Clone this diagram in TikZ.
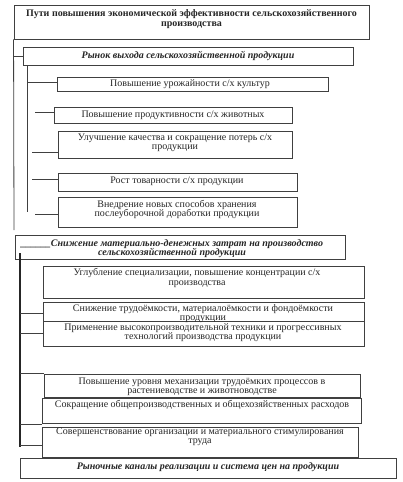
\documentclass[tikz,border=0pt]{standalone}
\usepackage{fontspec}
\setmainfont{Liberation Serif}
\tikzset{
  box/.style={draw=black!75, line width=0.9pt, inner sep=0pt, fill=white},
  txt/.style={inner sep=0pt, align=center, font=\fontsize{10}{10}\selectfont, text=black!85},
  btxt/.style={txt, font=\fontsize{10}{10}\selectfont\bfseries},
  itxt/.style={txt, font=\fontsize{10}{10}\selectfont\bfseries\itshape},
  conn/.style={draw=black!75, line width=0.8pt},
  spine/.style={draw=black!85, line width=1.4pt}
}
\newcommand\bx[5]{\node[box, minimum width={(#4-#2)*1pt}, minimum height={(#5-#3)*1pt}] (#1) at ({(#2+#4)/2},{(#3+#5)/2}) {};}
\begin{document}
\begin{tikzpicture}[x=1pt,y=-1pt]
\useasboundingbox[fill=white] (0,0) rectangle (402,482);
% boxes
\bx{T}{14}{5}{369}{39}
\bx{B2}{23}{47}{353}{65}
\bx{B3}{57}{77}{328}{91}
\bx{B4}{54}{107}{292}{123}
\bx{B5}{58}{131}{292}{158}
\bx{B6}{58}{173}{297}{191}
\bx{B7}{58}{197}{297}{227}
\bx{B8}{15}{235}{345}{259}
\bx{B9}{43}{266}{364}{298}
\bx{B10}{43}{302}{364}{321}
\bx{B11}{43}{321}{364}{346}
\bx{B12}{44}{374}{360}{397}
\bx{B13}{42}{398}{361}{423}
\bx{B14}{42}{427}{358}{457}
\bx{B15}{20}{458}{396}{478}
% texts
\node[btxt] (Tt) at (191.5,19) {Пути повышения экономической эффективности сельскохозяйственного\\производства};
\node[itxt] (B2t) at (188,56) {Рынок выхода сельскохозяйственной продукции};
\node[txt] (B3t) at (190,84) {Повышение урожайности с/х культур};
\node[txt] (B4t) at (173,115) {Повышение продуктивности с/х животных};
\node[txt] (B5t) at (175,142.5) {Улучшение качества и сокращение потерь с/х\\[-1pt]продукции};
\node[txt] (B6t) at (177,181.5) {Рост товарности с/х продукции};
\node[txt] (B7t) at (177,209) {Внедрение новых способов хранения\\[-1pt]послеуборочной доработки продукции};
\node[itxt] (B8t) at (172,248.5) {\_\_\_\_\_\_Снижение материально-денежных затрат на производство\\[-1pt]сельскохозяйственной продукции};
\node[txt] (B9t) at (197,278) {Углубление специализации, повышение концентрации с/х\\производства};
\node[txt] (B10t) at (203,313.5) {Снижение трудоёмкости, материалоёмкости и фондоёмкости\\[-1pt]продукции};
\node[txt] (B11t) at (203,333) {Применение высокопроизводительной техники и прогрессивных\\[-1pt]технологий производства продукции};
\node[txt] (B12t) at (202,386.5) {Повышение уровня механизации трудоёмких процессов в\\[-1pt]растениеводстве и животноводстве};
\node[txt] (B13t) at (202,405) {Сокращение общепроизводственных и общехозяйственных расходов};
\node[txt] (B14t) at (200,437) {Совершенствование организации и материального стимулирования\\[-1pt]труда};
\node[itxt] (B15t) at (208,467) {Рыночные каналы реализации и система цен на продукции};
% outer spine
\coordinate (o1) at (14,230);
\draw[conn] (T.south west) -- (o1);
\draw[conn] (B2.west -| o1) -- (B2.west);
% inner spine
\coordinate (i1) at (27,212);
\draw[conn] (i1 |- B2.south) -- (i1);
\coordinate (c3) at (27,82);
\draw[conn] (c3) -- (c3 -| B3.west);
\coordinate (c4) at (35,112);
\draw[conn] (c4) -- (c4 -| B4.west);
\coordinate (c5) at (32,152);
\draw[conn] (c5) -- (c5 -| B5.west);
\coordinate (c6) at (32,179);
\draw[conn] (c6) -- (c6 -| B6.west);
\coordinate (c7) at (35,214);
\draw[conn] (c7) -- (c7 -| B7.west);
% second spine
\coordinate (s1) at (20,253);
\coordinate (s2) at (20,447);
\draw[spine] (s1) -- (s2);
\draw[conn] (s1 |- 0,313) coordinate (d10) -- (d10 -| B10.west);
\draw[conn] (s1 |- 0,333) coordinate (d11) -- (d11 -| B11.west);
\draw[conn] (s1 |- 0,373) coordinate (d12) -- (d12 -| B12.west);
\draw[conn] (s1 |- 0,424) coordinate (d13) -- (d13 -| B13.west);
\draw[conn] (s1 |- 0,445) coordinate (d14) -- (d14 -| B14.west);
\end{tikzpicture}
\end{document}
